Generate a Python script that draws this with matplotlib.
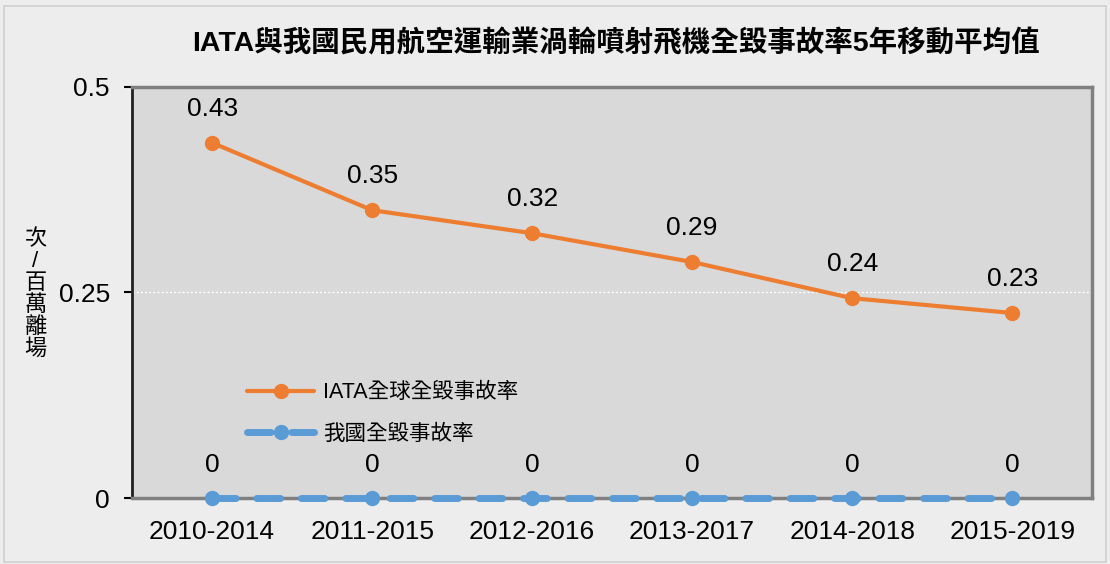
import matplotlib
matplotlib.use("Agg")
import matplotlib.pyplot as plt
from matplotlib.patches import Rectangle

plt.rcParams['font.family'] = ['Liberation Sans', 'Noto Sans CJK TC', 'DejaVu Sans']

# data
periods = ['2010-2014', '2011-2015', '2012-2016', '2013-2017', '2014-2018', '2015-2019']
iata_rate = [0.432, 0.350, 0.322, 0.287, 0.243, 0.225]
iata_labels = ['0.43', '0.35', '0.32', '0.29', '0.24', '0.23']
tw_rate = [0, 0, 0, 0, 0, 0]
tw_labels = ['0', '0', '0', '0', '0', '0']
yticks = [0, 0.25, 0.5]
ytick_labels = ['0', '0.25', '0.5']

title = 'IATA與我國民用航空運輸業渦輪噴射飛機全毀事故率5年移動平均值'
ylabel = '次\n/\n百\n萬\n離\n場'
series_names = ['IATA全球全毀事故率', '我國全毀事故率']

orange = '#ED7D31'
blue = '#5B9BD5'

fig = plt.figure(figsize=(11.1, 5.64), dpi=100, facecolor='#ededed')
fig.patches.append(Rectangle((0.004, 0.004), 0.992, 0.985, transform=fig.transFigure,
                             fill=False, edgecolor='#d0d0d0', lw=1.2))
ax = fig.add_axes([0.119, 0.117, 0.865, 0.729])
ax.set_facecolor('#d9d9d9')

x = list(range(len(periods)))

ax.plot(x, tw_rate, color=blue, lw=5, dashes=(3.4, 3.0), dash_capstyle='round',
        marker='o', markersize=10, label=series_names[1], clip_on=False, zorder=3)
ax.plot(x, iata_rate, color=orange, lw=3, marker='o', markersize=10,
        solid_capstyle='round', label=series_names[0], zorder=4)

for xi, v, s in zip(x, iata_rate, iata_labels):
    ax.annotate(s, (xi, v), xytext=(0, 16), textcoords='offset points',
                ha='center', va='bottom', fontsize=19)
for xi, v, s in zip(x, tw_rate, tw_labels):
    ax.annotate(s, (xi, v), xytext=(0, 15), textcoords='offset points',
                ha='center', va='bottom', fontsize=19)

ax.set_xlim(-0.5, len(periods) - 0.5)
ax.set_ylim(0, 0.5)
ax.set_xticks(x)
ax.set_xticklabels(periods, fontsize=19)
ax.set_yticks(yticks)
ax.set_yticklabels(ytick_labels, fontsize=19)
ax.tick_params(axis='x', length=0, pad=16)
ax.tick_params(axis='y', length=6, width=1.5, pad=10)
ax.grid(axis='y', color='white', ls=(0, (1.5, 1.5)), lw=1)
ax.set_axisbelow(True)

ax.spines['left'].set_color('#202020')
ax.spines['left'].set_linewidth(2)
for side in ['top', 'right', 'bottom']:
    ax.spines[side].set_color('#808080')
    ax.spines[side].set_linewidth(2.5)

handles, labels = ax.get_legend_handles_labels()
leg = ax.legend(handles[::-1], labels[::-1], loc='lower left', bbox_to_anchor=(0.1, 0.083),
                frameon=False, handlelength=3.1, labelspacing=0.95, handletextpad=0.4,
                prop={'family': ['Liberation Sans', 'Noto Sans CJK TC'], 'size': 15.5})

fig.text(0.555, 0.923, title, ha='center', va='center', fontsize=20.5, fontweight='bold')
fig.text(0.032, 0.478, ylabel, ha='center', va='center', fontsize=16, linespacing=1.05)

fig.savefig('out.png', dpi=100, facecolor=fig.get_facecolor())
